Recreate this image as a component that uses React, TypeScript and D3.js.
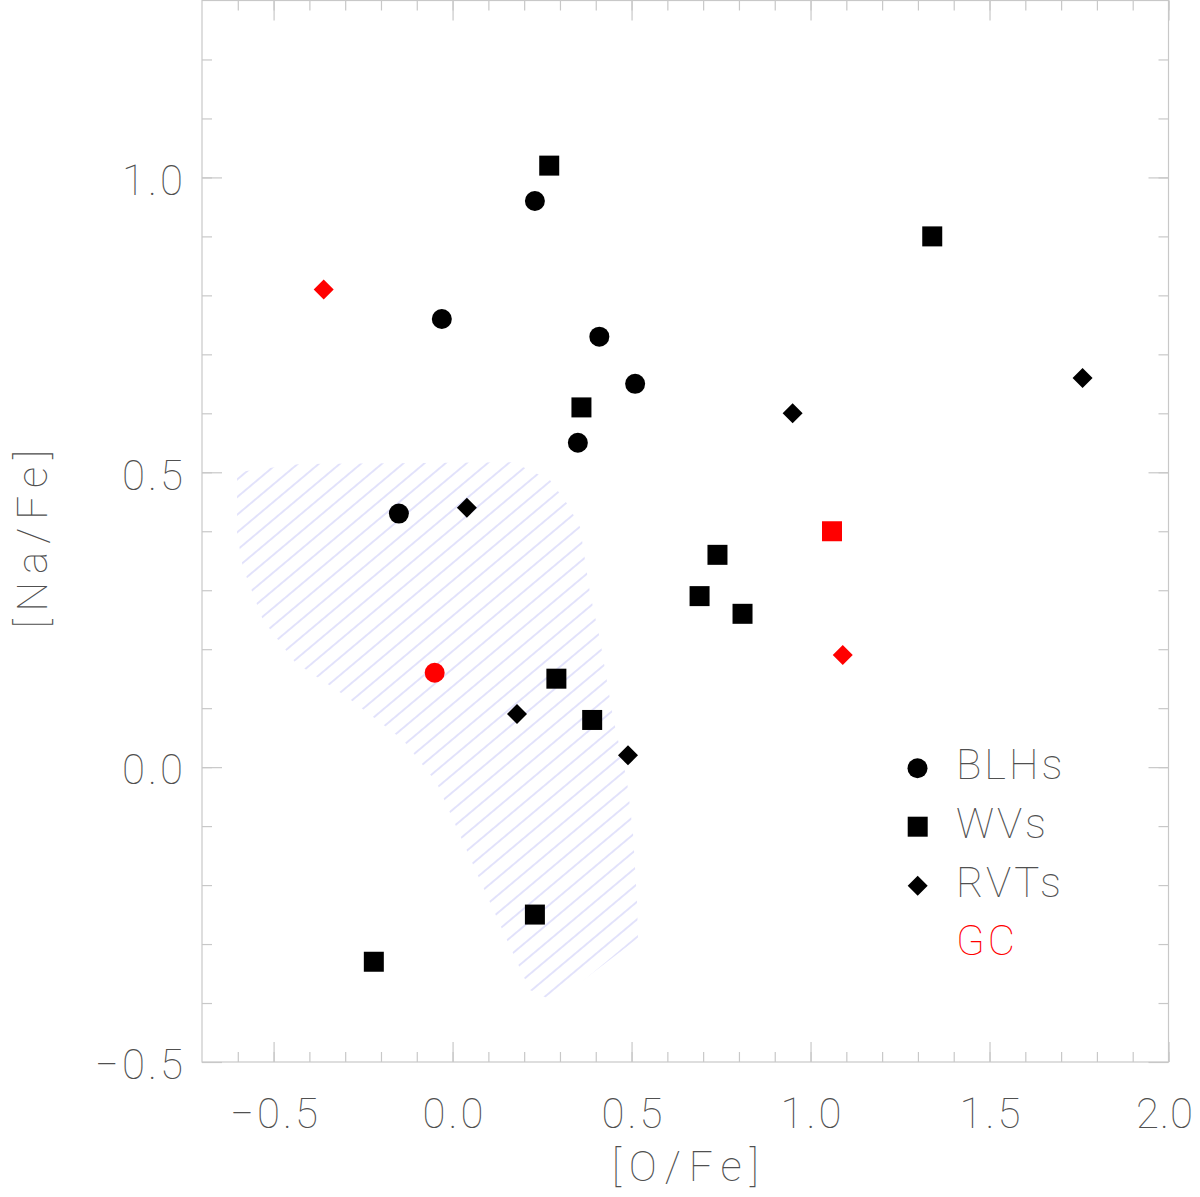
import { useRef, useEffect } from 'react';
import * as d3 from 'd3';

const WIDTH = 1200;
const HEIGHT = 1197;
const AXIS_COLOR = '#c8c8c8';
const TEXT_COLOR = '#505050';
const FONT = 'Roboto, Inter, "Open Sans", sans-serif';
const TICK_SPACING = 3;

// BLHs: [O/Fe] and [Na/Fe]
const blhO = [0.23, -0.03, 0.41, 0.51, 0.35, -0.15];
const blhNa = [0.96, 0.76, 0.73, 0.65, 0.55, 0.43];

// WVs
const wvO = [0.27, 1.34, 0.36, 0.74, 0.69, 0.81, 0.29, 0.39, 0.23, -0.22];
const wvNa = [1.02, 0.9, 0.61, 0.36, 0.29, 0.26, 0.15, 0.08, -0.25, -0.33];

// RVTs
const rvtO = [1.76, 0.95, 0.04, 0.18, 0.49];
const rvtNa = [0.66, 0.6, 0.44, 0.09, 0.02];

// globular cluster members (red)
const gcBlhO = [-0.05];
const gcBlhNa = [0.16];
const gcWvO = [1.06];
const gcWvNa = [0.4];
const gcRvtO = [-0.36, 1.09];
const gcRvtNa = [0.81, 0.19];

// hatched region outline
const regionO = [
  -0.602, -0.426, 0.169, 0.272, 0.322, 0.356, 0.384, 0.412, 0.448, 0.487, 0.504,
  0.515, 0.518, 0.286, 0.216, 0.152, 0.068, -0.044, -0.138, -0.295, -0.44, -0.53,
  -0.586, -0.602,
];
const regionNa = [
  0.5, 0.514, 0.517, 0.487, 0.445, 0.407, 0.295, 0.216, 0.085, -0.022, -0.112,
  -0.225, -0.29, -0.398, -0.378, -0.293, -0.18, -0.027, 0.046, 0.119, 0.178, 0.25,
  0.339, 0.397,
];

const majorX = [-0.5, 0.0, 0.5, 1.0, 1.5, 2.0];
const majorY = [-0.5, 0.0, 0.5, 1.0];
const minorX = d3.range(-6, 21).map((i) => i / 10);
const minorY = d3.range(-4, 13).map((i) => i / 10);

const legendLabels = ['BLHs', 'WVs', 'RVTs', 'GC'];

const x = d3.scaleLinear().domain([-0.7, 2.0]).range([202, 1168.5]);
const y = d3.scaleLinear().domain([-0.5, 1.3]).range([1062, 0.5]);

const circle = d3.symbol().type(d3.symbolCircle).size(314)();
const square = d3.symbol().type(d3.symbolSquare).size(400)();
const diamond = d3.symbol().type(d3.symbolSquare).size(200)();

const Points = ({ xs, ys, d, color, rotate = 0 }) => (
  <g fill={color}>
    {xs.map((v, i) => (
      <path
        key={i}
        d={d}
        transform={`translate(${x(v)},${y(ys[i])}) rotate(${rotate})`}
      />
    ))}
  </g>
);

const Chart = () => {
  const axesRef = useRef(null);

  useEffect(() => {
    const g = d3.select(axesRef.current);
    g.selectAll('*').remove();
    const fmt = d3.format('.1f');
    const [x0, x1] = x.range();
    const [y0, y1] = y.range();

    const add = (axis, tx, ty) =>
      g
        .append('g')
        .attr('transform', `translate(${tx},${ty})`)
        .call(axis)
        .call((s) => s.select('.domain').remove())
        .call((s) => s.selectAll('line').attr('stroke', AXIS_COLOR).attr('stroke-width', 1.2))
        .attr('font-family', FONT)
        .attr('font-size', 42)
        .attr('font-weight', 100)
        .call((s) =>
          s.selectAll('text').attr('fill', TEXT_COLOR).attr('letter-spacing', TICK_SPACING)
        );

    const none = () => '';

    // bottom
    add(d3.axisBottom(x).tickValues(minorX).tickSize(-10).tickFormat(none), 0, y0);
    add(d3.axisBottom(x).tickValues(majorX).tickSize(-20).tickPadding(36).tickFormat(fmt), 0, y0)
      .selectAll('text')
      .attr('dx', (d) => (d === 2 ? -4 : TICK_SPACING / 2))
      .attr('letter-spacing', (d) => (d === 2 ? 1 : TICK_SPACING));
    // top
    add(d3.axisTop(x).tickValues(minorX).tickSize(-10).tickFormat(none), 0, y1);
    add(d3.axisTop(x).tickValues(majorX).tickSize(-20).tickFormat(none), 0, y1);
    // left
    add(d3.axisLeft(y).tickValues(minorY).tickSize(-10).tickFormat(none), x0, 0);
    add(d3.axisLeft(y).tickValues(majorY).tickSize(-20).tickPadding(19).tickFormat(fmt), x0, 0)
      .selectAll('text')
      .attr('dy', '0.4em')
      .attr('dx', TICK_SPACING);
    // right
    add(d3.axisRight(y).tickValues(minorY).tickSize(-10).tickFormat(none), x1, 0);
    add(d3.axisRight(y).tickValues(majorY).tickSize(-20).tickFormat(none), x1, 0);
  }, []);

  const regionPath = d3
    .line()
    .x((_, i) => x(regionO[i]))
    .y((_, i) => y(regionNa[i]))
    .curve(d3.curveLinearClosed)(regionO);

  const [x0, x1] = x.range();
  const [y0, y1] = y.range();
  const legendX = 956;
  const legendBase = [779, 838, 897, 955];

  return (
    <svg width={WIDTH} height={HEIGHT} style={{ display: 'block', background: '#fff' }}>
      <defs>
        <pattern
          id="hatch"
          patternUnits="userSpaceOnUse"
          width={10}
          height={13.5}
          patternTransform="rotate(-40)"
        >
          <line x1={0} x2={10} y1={6.75} y2={6.75} stroke="#c6c6f8" strokeWidth={1} />
        </pattern>
      </defs>

      <path d={regionPath} fill="url(#hatch)" />

      <rect
        x={x0}
        y={y1}
        width={x1 - x0}
        height={y0 - y1}
        fill="none"
        stroke={AXIS_COLOR}
        strokeWidth={1.2}
      />
      <g ref={axesRef} />

      <Points xs={blhO} ys={blhNa} d={circle} color="#000" />
      <Points xs={wvO} ys={wvNa} d={square} color="#000" />
      <Points xs={rvtO} ys={rvtNa} d={diamond} color="#000" rotate={45} />
      <Points xs={gcBlhO} ys={gcBlhNa} d={circle} color="#ff0000" />
      <Points xs={gcWvO} ys={gcWvNa} d={square} color="#ff0000" />
      <Points xs={gcRvtO} ys={gcRvtNa} d={diamond} color="#ff0000" rotate={45} />

      {/* legend */}
      <path d={circle} transform={`translate(917.5,768.3)`} fill="#000" />
      <path d={square} transform={`translate(917.7,826.7)`} fill="#000" />
      <path d={diamond} transform={`translate(917.7,885.7) rotate(45)`} fill="#000" />
      <g fontFamily={FONT} fontSize={42} fontWeight={100}>
        {legendLabels.map((t, i) => (
          <text
            key={t}
            x={legendX}
            y={legendBase[i]}
            letterSpacing={3}
            fill={t === 'GC' ? '#ff0000' : TEXT_COLOR}
          >
            {t}
          </text>
        ))}
        <text
          x={(x0 + x1) / 2 + 4}
          y={1181}
          textAnchor="middle"
          letterSpacing={8}
          fill={TEXT_COLOR}
        >
          [O/Fe]
        </text>
        <text
          transform={`translate(47,${(y0 + y1) / 2 + 4}) rotate(-90)`}
          textAnchor="middle"
          letterSpacing={8}
          fill={TEXT_COLOR}
        >
          [Na/Fe]
        </text>
      </g>
    </svg>
  );
};

export default function App() {
  return (
    <div style={{ position: 'absolute', left: 0, top: 0 }}>
      <Chart />
    </div>
  );
}
